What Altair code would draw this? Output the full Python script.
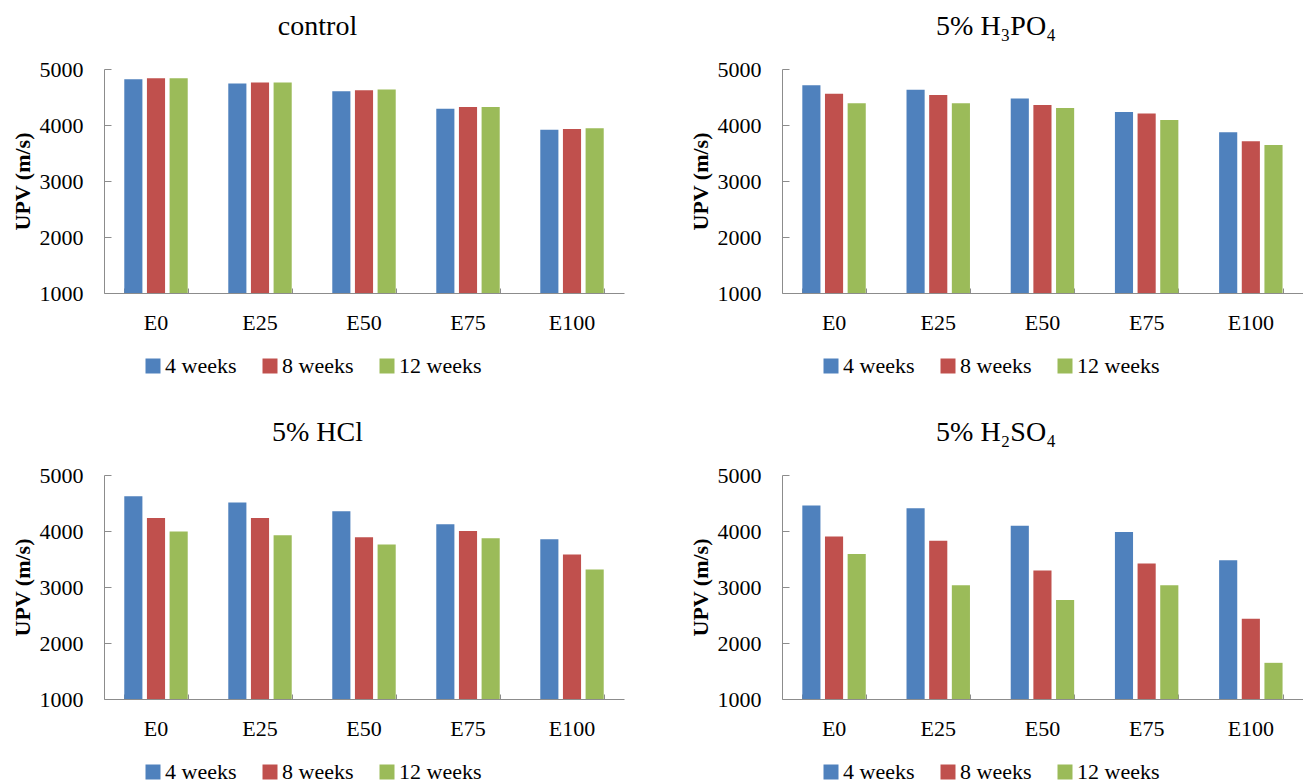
import altair as alt
import pandas as pd

categories = ["E0", "E25", "E50", "E75", "E100"]
series = ["4 weeks", "8 weeks", "12 weeks"]
colors = ["#4F81BD", "#C0504D", "#9BBB59"]
y_ticks = [1000, 2000, 3000, 4000, 5000]

titles = ["control", "5% H\u2083PO\u2084", "5% HCl", "5% H\u2082SO\u2084"]

control_4w = [4817, 4740, 4604, 4291, 3913]
control_8w = [4835, 4758, 4622, 4320, 3930]
control_12w = [4835, 4758, 4634, 4320, 3942]

h3po4_4w = [4709, 4631, 4471, 4233, 3871]
h3po4_8w = [4560, 4536, 4358, 4204, 3710]
h3po4_12w = [4388, 4388, 4305, 4091, 3645]

hcl_4w = [4620, 4507, 4352, 4120, 3853]
hcl_8w = [4233, 4233, 3889, 4001, 3580]
hcl_12w = [3990, 3924, 3758, 3871, 3312]

h2so4_4w = [4455, 4407, 4093, 3981, 3477]
h2so4_8w = [3904, 3826, 3293, 3418, 2433]
h2so4_12w = [3590, 3033, 2766, 3033, 1646]

FONT = "'Liberation Serif', 'Times New Roman', serif"
GRAY = "#8c8c8c"
PLOT_H = 224


def panel(title, v4, v8, v12, width):
    rows = []
    for s, vals in zip(series, (v4, v8, v12)):
        for c, v in zip(categories, vals):
            rows.append({"group": c, "series": s, "upv": v})
    df = pd.DataFrame(rows)
    base = alt.Chart(df)
    xscale = alt.Scale(domain=categories, paddingInner=0.39, paddingOuter=0.195)
    yscale = alt.Scale(domain=[1000, 5000], nice=False, zero=False)
    bars = base.mark_bar().encode(
        x=alt.X("group:N", sort=categories, scale=xscale,
                axis=alt.Axis(title=None, orient="bottom", labelAngle=0, ticks=False,
                              tickSize=0, labelPadding=19, domainColor=GRAY,
                              labelFontSize=22, labelFont=FONT, labelColor="black")),
        xOffset=alt.XOffset("series:N", sort=series,
                            scale=alt.Scale(domain=series, paddingInner=0.2, paddingOuter=0)),
        y=alt.Y("upv:Q", scale=yscale,
                axis=alt.Axis(title="UPV (m/s)", orient="left", values=y_ticks, format="d",
                              ticks=False, tickSize=0, labelPadding=21, grid=False,
                              domainColor=GRAY, labelFontSize=22, labelFont=FONT,
                              labelColor="black", titleFont=FONT, titleFontSize=22,
                              titleFontWeight="bold", titleColor="black", titlePadding=5)),
        y2=alt.datum(1000),
        color=alt.Color("series:N", sort=series,
                        scale=alt.Scale(domain=series, range=colors),
                        legend=alt.Legend(title=None, orient="none", legendX=38, legendY=286,
                                          direction="horizontal", symbolType="square",
                                          symbolSize=225, symbolStrokeWidth=0,
                                          labelFont=FONT, labelFontSize=22, labelColor="black",
                                          labelOffset=1, columnPadding=22, padding=0)),
    )
    inner_ticks = base.mark_point(opacity=0).encode(
        x=alt.X("group:N", sort=categories,
                axis=alt.Axis(orient="top", offset=-PLOT_H, labels=False, domain=False,
                              ticks=True, tickSize=5, tickBand="extent", tickColor=GRAY,
                              title=None)),
        y=alt.Y("upv:Q",
                axis=alt.Axis(orient="right", offset=-width, labels=False, domain=False,
                              ticks=True, tickSize=7, values=y_ticks, tickColor=GRAY,
                              title=None, grid=False)),
    )
    return alt.layer(bars, inner_ticks).resolve_axis(
        x="independent", y="independent"
    ).properties(
        width=width, height=PLOT_H,
        title=alt.Title(title, font=FONT, fontSize=28, fontWeight="normal", anchor="middle",
                        frame="bounds", offset=17, color="black"),
    )


p1 = panel(titles[0], control_4w, control_8w, control_12w, 520)
p2 = panel(titles[1], h3po4_4w, h3po4_8w, h3po4_12w, 521)
p3 = panel(titles[2], hcl_4w, hcl_8w, hcl_12w, 520)
p4 = panel(titles[3], h2so4_4w, h2so4_8w, h2so4_12w, 521)

row1 = alt.hconcat(p1, p2, spacing=65).resolve_scale(color="independent")
row2 = alt.hconcat(p3, p4, spacing=65).resolve_scale(color="independent")

chart = alt.vconcat(row1, row2, spacing=42).resolve_scale(color="independent").properties(
    padding={"left": 3, "top": 5, "right": 0, "bottom": 0},
    background="white",
).configure(
    font=FONT,
).configure_axis(
    labelFont=FONT, titleFont=FONT, labelFontSize=22, titleFontSize=22,
).configure_legend(
    labelFont=FONT, labelFontSize=22,
).configure_title(
    font=FONT,
).configure_view(stroke=None)

chart.save("out.html", embed_options={"renderer": "svg", "actions": False})
